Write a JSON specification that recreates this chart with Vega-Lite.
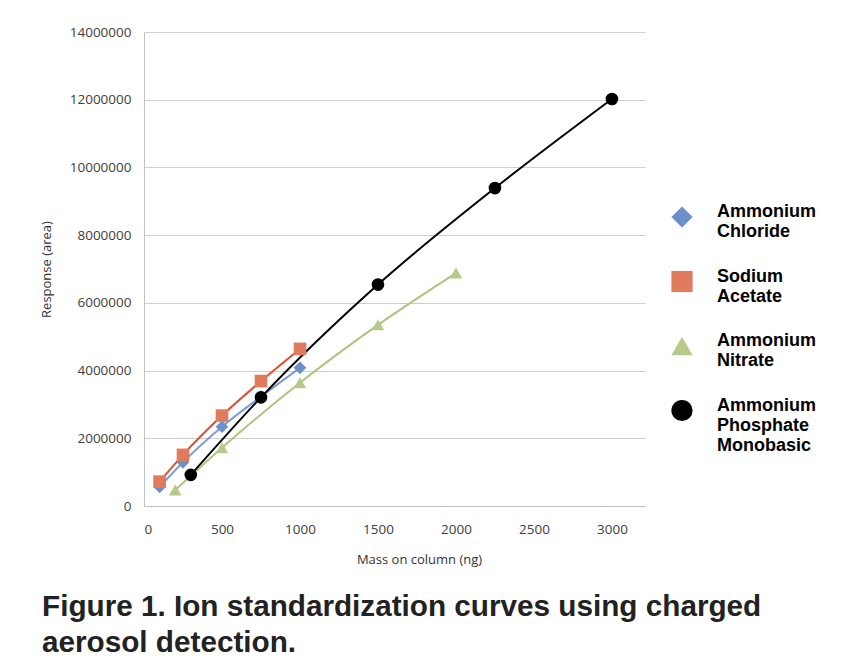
{
  "$schema": "https://vega.github.io/schema/vega-lite/v6.json",
  "width": 501,
  "height": 474,
  "autosize": {"type": "none"},
  "padding": {"left": 144, "top": 32, "right": 198, "bottom": 164},
  "background": "white",
  "config": {"view": {"stroke": null}, "font": "Open Sans"},
  "title": {
    "text": ["Figure 1. Ion standardization curves using charged", "aerosol detection."],
    "orient": "bottom",
    "anchor": "start",
    "frame": "group",
    "dx": -102,
    "offset": 26,
    "font": "Liberation Sans",
    "fontSize": 29.7,
    "fontWeight": "bold",
    "color": "#222222",
    "lineHeight": 36
  },
  "data": {
    "values": [
      {"series": "Ammonium Chloride", "mass": 100, "response": 560000},
      {"series": "Ammonium Chloride", "mass": 250, "response": 1290000},
      {"series": "Ammonium Chloride", "mass": 500, "response": 2340000},
      {"series": "Ammonium Chloride", "mass": 750, "response": 3230000},
      {"series": "Ammonium Chloride", "mass": 1000, "response": 4080000},
      {"series": "Sodium Acetate", "mass": 100, "response": 720000},
      {"series": "Sodium Acetate", "mass": 250, "response": 1510000},
      {"series": "Sodium Acetate", "mass": 500, "response": 2670000},
      {"series": "Sodium Acetate", "mass": 750, "response": 3690000},
      {"series": "Sodium Acetate", "mass": 1000, "response": 4640000},
      {"series": "Ammonium Nitrate", "mass": 200, "response": 470000},
      {"series": "Ammonium Nitrate", "mass": 500, "response": 1720000},
      {"series": "Ammonium Nitrate", "mass": 1000, "response": 3640000},
      {"series": "Ammonium Nitrate", "mass": 1500, "response": 5350000},
      {"series": "Ammonium Nitrate", "mass": 2000, "response": 6880000},
      {"series": "Ammonium Phosphate Monobasic", "mass": 300, "response": 920000},
      {"series": "Ammonium Phosphate Monobasic", "mass": 750, "response": 3210000},
      {"series": "Ammonium Phosphate Monobasic", "mass": 1500, "response": 6540000},
      {"series": "Ammonium Phosphate Monobasic", "mass": 2250, "response": 9390000},
      {"series": "Ammonium Phosphate Monobasic", "mass": 3000, "response": 12020000}
    ]
  },
  "encoding": {
    "x": {
      "field": "mass",
      "type": "quantitative",
      "scale": {"domain": [0, 3212], "nice": false},
      "axis": {
        "values": [0, 500, 1000, 1500, 2000, 2500, 3000],
        "format": "d",
        "grid": false,
        "ticks": false,
        "domainColor": "#c0c0c0",
        "labelFont": "Open Sans",
        "labelFontSize": 13.5,
        "labelColor": "#404040",
        "labelPadding": 16,
        "title": "Mass on column (ng)",
        "titleFont": "Open Sans",
        "titleFontSize": 13,
        "titleFontWeight": "normal",
        "titleColor": "#333333",
        "titlePadding": 18,
        "titleX": 275
      }
    },
    "y": {
      "field": "response",
      "type": "quantitative",
      "scale": {"domain": [0, 14000000], "nice": false},
      "axis": {
        "values": [0, 2000000, 4000000, 6000000, 8000000, 10000000, 12000000, 14000000],
        "format": "d",
        "grid": true,
        "gridColor": "#cfcfcf",
        "ticks": false,
        "domainColor": "#c0c0c0",
        "labelFont": "Open Sans",
        "labelFontSize": 13.5,
        "labelColor": "#404040",
        "labelPadding": 13,
        "title": "Response (area)",
        "titleFont": "Open Sans",
        "titleFontSize": 13,
        "titleFontWeight": "normal",
        "titleColor": "#333333",
        "titlePadding": 16
      }
    }
  },
  "layer": [
    {
      "mark": {"type": "line", "interpolate": "monotone", "strokeWidth": 2},
      "encoding": {
        "color": {
          "field": "series",
          "type": "nominal",
          "scale": {
            "domain": ["Ammonium Chloride", "Sodium Acetate", "Ammonium Nitrate", "Ammonium Phosphate Monobasic"],
            "range": ["#7b9ed3", "#e24c2e", "#adc47e", "#000000"]
          },
          "legend": null
        }
      }
    },
    {
      "mark": {"type": "point", "filled": true, "opacity": 1, "size": 160},
      "encoding": {
        "color": {
          "field": "series",
          "type": "nominal",
          "scale": {
            "domain": ["Ammonium Chloride", "Sodium Acetate", "Ammonium Nitrate", "Ammonium Phosphate Monobasic"],
            "range": ["#6c8fc9", "#e07b5e", "#b6c98a", "#000000"]
          },
          "legend": {
            "title": null,
            "orient": "none",
            "legendX": 527,
            "legendY": 174,
            "symbolSize": 450,
            "symbolOpacity": 1,
            "symbolStrokeWidth": 0,
            "labelFont": "Liberation Sans",
            "labelFontSize": 18,
            "labelFontWeight": "bold",
            "labelColor": "#000000",
            "labelBaseline": "alphabetic",
            "labelLineHeight": 22,
            "labelOffset": 24,
            "labelLimit": 200,
            "rowPadding": 26.5,
            "labelExpr": "split(datum.label, ' ')"
          }
        },
        "shape": {
          "field": "series",
          "type": "nominal",
          "scale": {
            "domain": ["Ammonium Chloride", "Sodium Acetate", "Ammonium Nitrate", "Ammonium Phosphate Monobasic"],
            "range": ["diamond", "square", "triangle-up", "circle"]
          },
          "legend": {
            "title": null,
            "orient": "none",
            "legendX": 527,
            "legendY": 174,
            "symbolSize": 450,
            "symbolOpacity": 1,
            "symbolStrokeWidth": 0,
            "labelFont": "Liberation Sans",
            "labelFontSize": 18,
            "labelFontWeight": "bold",
            "labelColor": "#000000",
            "labelBaseline": "alphabetic",
            "labelLineHeight": 22,
            "labelOffset": 24,
            "labelLimit": 200,
            "rowPadding": 26.5,
            "labelExpr": "split(datum.label, ' ')"
          }
        }
      }
    }
  ],
  "resolve": {"scale": {"color": "independent", "shape": "independent"}}
}
